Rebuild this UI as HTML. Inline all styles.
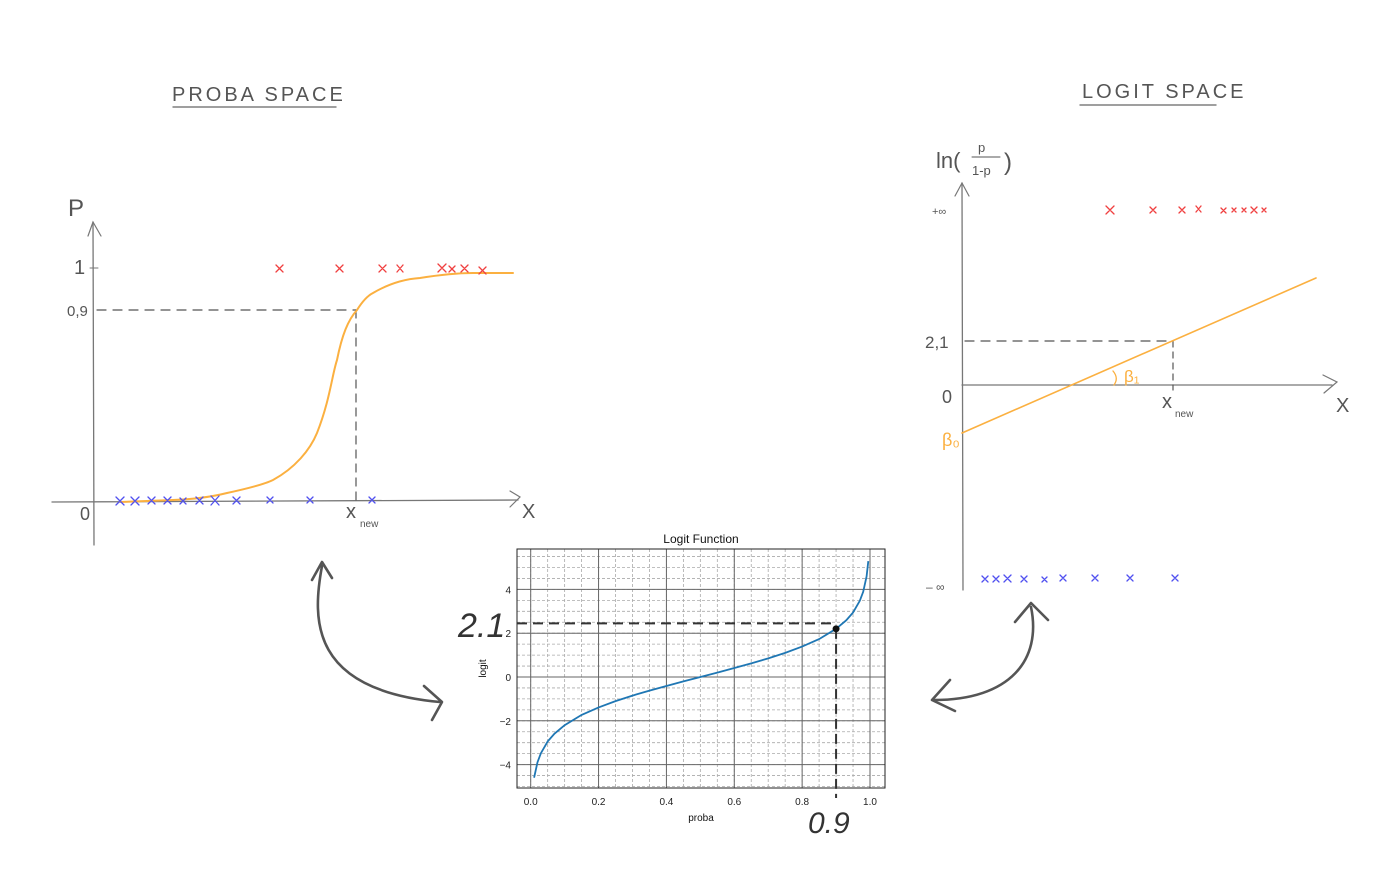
<!DOCTYPE html>
<html><head><meta charset="utf-8"><style>
body{margin:0;background:#fff;width:1396px;height:871px;overflow:hidden;font-family:"Liberation Sans",sans-serif}
svg{position:absolute;left:0;top:0}
.hand{font-family:"Liberation Sans",sans-serif;fill:#555}
</style></head><body>
<svg width="1396" height="871" viewBox="0 0 1396 871">
<!-- LEFT: proba space -->
<g stroke-linecap="round">
<text x="172" y="101" class="hand" font-size="20" letter-spacing="3">PROBA  SPACE</text>
<line x1="173" y1="107" x2="336" y2="107" stroke="#666" stroke-width="1.3"/>
<line x1="93" y1="222" x2="94" y2="545" stroke="#777" stroke-width="1.3"/>
<polyline points="88,236 93,222 101,236" fill="none" stroke="#777" stroke-width="1.2"/>
<line x1="52" y1="502" x2="518" y2="500" stroke="#777" stroke-width="1.3"/>
<polyline points="510,491 520,497 510,507" fill="none" stroke="#777" stroke-width="1.2"/>
<text x="68" y="216" class="hand" font-size="24">P</text>
<text x="74" y="274" class="hand" font-size="20">1</text>
<line x1="90" y1="268" x2="98" y2="268" stroke="#777"/>
<text x="67" y="316" class="hand" font-size="15">0,9</text>
<text x="80" y="520" class="hand" font-size="18">0</text>
<text x="522" y="518" class="hand" font-size="20">X</text>
<text x="346" y="518" class="hand" font-size="20">x</text>
<text x="360" y="527" class="hand" font-size="10">new</text>
<line x1="97" y1="310" x2="356" y2="310" stroke="#555" stroke-width="1.2" stroke-dasharray="9,7"/>
<line x1="356" y1="310" x2="356" y2="500" stroke="#555" stroke-width="1.2" stroke-dasharray="8,6"/>
<path d="M120,502 L173,500 C200,499 215,496 227,493 C250,488 265,484 273,480 C295,468 310,450 317,433 C330,400 332,375 337,360 C342,335 348,320 357,310 C362,302 367,296 373,293 C390,283 405,279 420,278 C445,274 460,273 473,273 L513,273" fill="none" stroke="#fbb040" stroke-width="2"/>
<g stroke="#f04040" stroke-width="1.3">
<path d="M276,265l7,7M283,265l-7,7M336,265l7,7M343,265l-7,7M379,265l7,7M386,265l-7,7M397,265l6,7M403,265l-6,7M438,264l8,8M446,264l-8,8M449,266l6,6M455,266l-6,6M461,265l7,7M468,265l-7,7M479,267l7,7M486,267l-7,7"/>
</g>
<g stroke="#5050f0" stroke-width="1.3">
<path d="M116,497l8,8M124,497l-8,8M131,497l8,8M139,497l-8,8M148,497l7,7M155,497l-7,7M164,497l7,7M171,497l-7,7M180,498l6,6M186,498l-6,6M196,497l7,7M203,497l-7,7M211,496l8,9M219,496l-8,9M233,497l7,7M240,497l-7,7M267,497l6,6M273,497l-6,6M307,497l6,6M313,497l-6,6M369,497l6,6M375,497l-6,6"/>
</g>
</g>

<!-- RIGHT: logit space -->
<g stroke-linecap="round">
<text x="1082" y="98" class="hand" font-size="20" letter-spacing="3">LOGIT  SPACE</text>
<line x1="1080" y1="105" x2="1216" y2="105" stroke="#666" stroke-width="1.3"/>
<text x="936" y="168" class="hand" font-size="22">ln(</text>
<text x="978" y="152" class="hand" font-size="13">p</text>
<line x1="972" y1="157" x2="1000" y2="157" stroke="#555"/>
<text x="972" y="175" class="hand" font-size="13">1-p</text>
<text x="1004" y="170" class="hand" font-size="24">)</text>
<line x1="962" y1="183" x2="963" y2="590" stroke="#777" stroke-width="1.3"/>
<polyline points="955,196 962,183 969,196" fill="none" stroke="#777" stroke-width="1.2"/>
<line x1="962" y1="385" x2="1332" y2="385" stroke="#777" stroke-width="1.3"/>
<polyline points="1323,375 1337,382 1324,393" fill="none" stroke="#777" stroke-width="1.2"/>
<text x="932" y="215" class="hand" font-size="11">+∞</text>
<text x="926" y="591" class="hand" font-size="12">– ∞</text>
<text x="925" y="348" class="hand" font-size="17">2,1</text>
<text x="942" y="403" class="hand" font-size="18">0</text>
<text x="1336" y="412" class="hand" font-size="20">X</text>
<text x="1162" y="408" class="hand" font-size="20">x</text>
<text x="1175" y="417" class="hand" font-size="10">new</text>
<line x1="965" y1="341" x2="1173" y2="341" stroke="#555" stroke-width="1.2" stroke-dasharray="9,7"/>
<line x1="1173" y1="341" x2="1173" y2="390" stroke="#555" stroke-width="1.2" stroke-dasharray="6,5"/>
<line x1="962" y1="433" x2="1316" y2="278" stroke="#fbb040" stroke-width="1.6"/>
<path d="M1113,371 Q1119,378 1114,385" fill="none" stroke="#fbb040" stroke-width="1.3"/>
<text x="1124" y="382" font-size="17" fill="#fbb040">β₁</text>
<text x="942" y="446" font-size="18" fill="#fbb040">β₀</text>
<g stroke="#f04040" stroke-width="1.3">
<path d="M1106,206l8,8M1114,206l-8,8M1150,207l6,6M1156,207l-6,6M1179,207l6,6M1185,207l-6,6M1196,206l5,6M1201,206l-5,6M1221,208l5,5M1226,208l-5,5M1232,208l4,4M1236,208l-4,4M1242,208l4,4M1246,208l-4,4M1251,207l6,6M1257,207l-6,6M1262,208l4,4M1266,208l-4,4"/>
</g>
<g stroke="#5050f0" stroke-width="1.3">
<path d="M982,576l6,6M988,576l-6,6M993,576l6,6M999,576l-6,6M1004,575l7,7M1011,575l-7,7M1021,576l6,6M1027,576l-6,6M1042,577l5,5M1047,577l-5,5M1060,575l6,6M1066,575l-6,6M1092,575l6,6M1098,575l-6,6M1127,575l6,6M1133,575l-6,6M1172,575l6,6M1178,575l-6,6"/>
</g>
</g>

<!-- arrows -->
<g fill="none" stroke="#555" stroke-width="2.6" stroke-linecap="round" stroke-linejoin="round">
<path d="M322,566 C312,620 310,690 440,702"/>
<polyline points="312,580 322,562 332,578"/>
<polyline points="424,686 442,702 432,720"/>
<path d="M1031,607 C1042,660 1010,700 934,700"/>
<polyline points="1015,622 1031,603 1048,620"/>
<polyline points="950,680 932,700 955,711"/>
</g>

<!-- center chart -->
<g id="chart"></g>
<text x="458" y="637" font-size="34" fill="#333" font-style="italic">2.1</text>
<text x="808" y="833" font-size="30" fill="#333" font-style="italic">0.9</text>
</svg>
<script>
const xTicks=[0,0.2,0.4,0.6,0.8,1.0];
const xTickLabels=["0.0","0.2","0.4","0.6","0.8","1.0"];
const yTicks=[-4,-2,0,2,4];
const yTickLabels=["−4","−2","0","2","4"];
const curveP=[0.01,0.02,0.03,0.05,0.07,0.1,0.15,0.2,0.25,0.3,0.35,0.4,0.45,0.5,0.55,0.6,0.65,0.7,0.75,0.8,0.85,0.9,0.93,0.95,0.97,0.98,0.99,0.995];
const curveLogit=[-4.6,-3.89,-3.48,-2.94,-2.59,-2.2,-1.73,-1.39,-1.1,-0.85,-0.62,-0.41,-0.2,0,0.2,0.41,0.62,0.85,1.1,1.39,1.73,2.2,2.59,2.94,3.48,3.89,4.6,5.29];
const markerP=[0.9];
const markerLogit=[2.2];
const refY=[2.45];
const L=517,R=885,T=549,B=788;
const sx=v=>530.7+v*339.3;
const sy=v=>677-v*21.9;
const NS="http://www.w3.org/2000/svg";
const g=document.getElementById('chart');
function mk(tag,attrs){const e=document.createElementNS(NS,tag);for(const k in attrs)e.setAttribute(k,attrs[k]);g.appendChild(e);return e;}
// minor grid
for(let v=-0.05;v<=1.05;v+=0.05){const x=sx(v);if(x<L||x>R)continue;const e=mk('line',{x1:x,x2:x,y1:T,y2:B,stroke:'#aaa','stroke-width':0.8,'stroke-dasharray':'3,2'});

}
for(let v=-5;v<=5.5;v+=0.5){const y=sy(v);if(y<T||y>B)continue;const e=mk('line',{x1:L,x2:R,y1:y,y2:y,stroke:'#aaa','stroke-width':0.8,'stroke-dasharray':'3,2'});

}
xTicks.forEach((v,i)=>{const x=sx(v);
const e=mk('line',{x1:x,x2:x,y1:T,y2:B,stroke:'#666','stroke-width':1});


const t=mk('text',{x:x,y:B+17,'font-size':10,'text-anchor':'middle',fill:'#222'});t.textContent=xTickLabels[i];

});
yTicks.forEach((v,i)=>{const y=sy(v);
const e=mk('line',{x1:L,x2:R,y1:y,y2:y,stroke:'#666','stroke-width':1});


const t=mk('text',{x:L-6,y:y+4,'font-size':10,'text-anchor':'end',fill:'#222'});t.textContent=yTickLabels[i];

});
const fr=mk('rect',{x:L,y:T,width:R-L,height:B-T,fill:'none',stroke:'#222','stroke-width':1});


const pts=curveP.map((p,i)=>sx(p).toFixed(1)+','+sy(curveLogit[i]).toFixed(1)).join(' ');
const c=mk('polyline',{points:pts,fill:'none',stroke:'#1f77b4','stroke-width':1.8});


const hl=mk('line',{x1:L,x2:sx(markerP[0]),y1:sy(refY[0]),y2:sy(refY[0]),stroke:'#333','stroke-width':2,'stroke-dasharray':'10,6'});


const vl=mk('line',{x1:sx(markerP[0]),x2:sx(markerP[0]),y1:sy(markerLogit[0]),y2:B+10,stroke:'#333','stroke-width':2,'stroke-dasharray':'10,5'});


markerP.forEach((p,i)=>{const m=mk('circle',{cx:sx(p),cy:sy(markerLogit[i]),r:3.5,fill:'#111'});

});
const ti=mk('text',{x:(L+R)/2,y:T-6,'font-size':12,'text-anchor':'middle',fill:'#111'});ti.textContent='Logit Function';


const xl=mk('text',{x:(L+R)/2,y:B+33,'font-size':10,'text-anchor':'middle',fill:'#111'});xl.textContent='proba';


const yl=mk('text',{x:0,y:0,'font-size':10,'text-anchor':'middle',fill:'#111',transform:'translate(486,'+(T+B)/2+') rotate(-90)'});yl.textContent='logit';


</script>
</body></html>
